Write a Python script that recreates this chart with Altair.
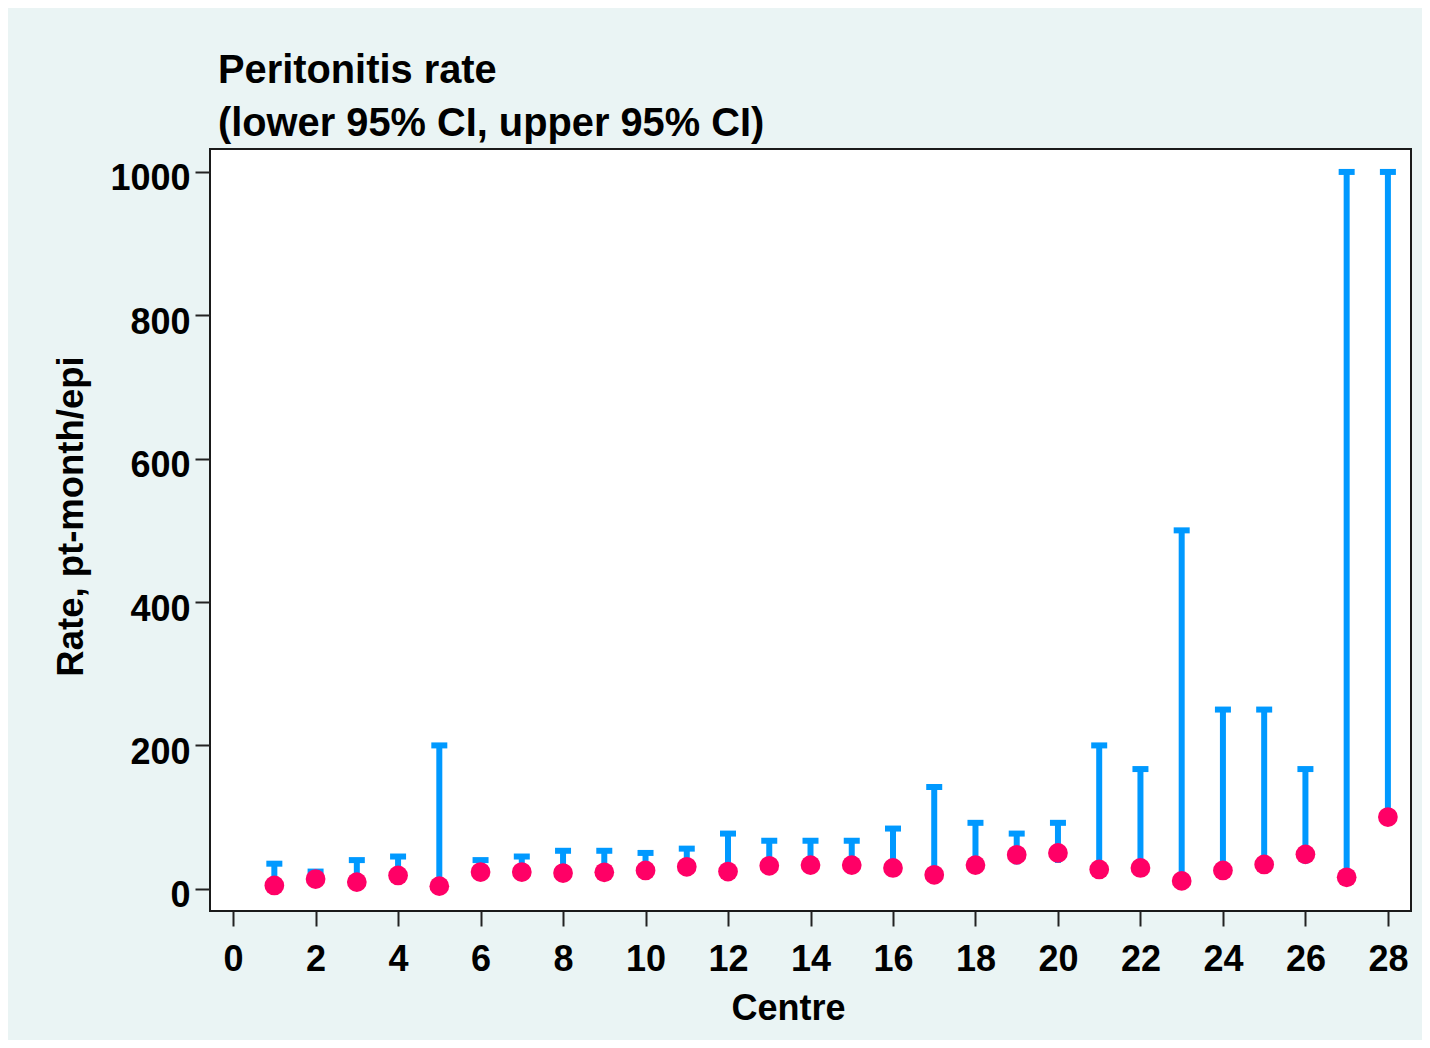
import altair as alt
import pandas as pd

centre = list(range(1, 29))
rate = [4.6, 13.5, 9.3, 18.6, 3.7, 23.3, 23.3, 22, 23, 25.5, 30.7, 24, 32, 33,
        33, 29, 19.5, 33, 47.4, 50, 27, 29, 11, 25.5, 34, 48, 16, 100]
lower = [1, 6, 3, 9, 0.5, 14, 14, 13, 14, 16, 20, 15, 21, 22,
         22, 18, 10, 22, 34, 36, 17, 18, 5, 16, 23, 35, 8, 88]
upper = [35, 24, 40, 45, 200, 40, 45, 53, 53, 50, 56, 77, 67, 67,
         67, 84, 142, 92, 77, 92, 200, 167, 500, 250, 250, 167, 1000, 1000]

x_ticks = list(range(0, 29, 2))
y_ticks = [0, 200, 400, 600, 800, 1000]

df = pd.DataFrame({"centre": centre, "rate": rate, "lower": lower, "upper": upper})

FONT = "Liberation Sans"
BLUE = "#0099FF"
PINK = "#FF0066"

x_enc = alt.X(
    "centre:Q",
    scale=alt.Scale(domain=[-0.56, 28.56], nice=False, zero=False),
    axis=alt.Axis(
        values=x_ticks, title="Centre", grid=False, domain=False, format="d",
        tickSize=15, tickWidth=2, tickColor="#222222",
        labelFont=FONT, labelFontSize=36, labelFontWeight="bold", labelColor="black",
        labelBaseline="alphabetic", labelPadding=44, labelFlush=False,
        titleFont=FONT, titleFontSize=36, titleFontWeight="bold", titleColor="black",
        titleX=578, titleY=108, titleBaseline="alphabetic", titleAlign="center",
    ),
)

y_scale = alt.Scale(domain=[-31, 1032], nice=False, zero=False)
y_axis = alt.Axis(
    values=y_ticks, title="Rate, pt-month/epi", grid=False, domain=False, format="d",
    tickSize=15, tickWidth=2, tickColor="#222222",
    labelFont=FONT, labelFontSize=36, labelFontWeight="bold", labelColor="black",
    labelPadding=5, labelOffset=7, labelFlush=False,
    titleFont=FONT, titleFontSize=36.5, titleFontWeight="bold", titleColor="black",
    titleAngle=270, titleX=-128, titleY=367, titleBaseline="alphabetic", titleAlign="center",
)

base = alt.Chart(df)

rules = base.mark_rule(color=BLUE, strokeWidth=6).encode(
    x=x_enc,
    y=alt.Y("lower:Q", scale=y_scale, axis=y_axis),
    y2="upper:Q",
)

caps = base.mark_tick(color=BLUE, orient="horizontal", size=16, thickness=6, opacity=1).encode(
    x="centre:Q",
    y="upper:Q",
)

points = base.mark_circle(color=PINK, size=390, opacity=1).encode(
    x="centre:Q",
    y="rate:Q",
)

chart = (
    alt.layer(rules, caps, points)
    .properties(
        width=1201,
        height=762,
        autosize=alt.AutoSizeParams(type="none"),
        padding={"left": 202, "top": 141, "right": 11, "bottom": 129},
        background="#EAF4F4",
        title=alt.TitleParams(
            text=["Peritonitis rate", "(lower 95% CI, upper 95% CI)"],
            font=FONT, fontSize=39.8, fontWeight="bold", color="black",
            anchor="start", frame="group", dx=8, offset=4, lineHeight=53,
        ),
    )
    .configure_view(fill="white", stroke="#1a1a1a", strokeWidth=2)
)

chart.save("out.html", embed_options={"renderer": "svg", "actions": False})
